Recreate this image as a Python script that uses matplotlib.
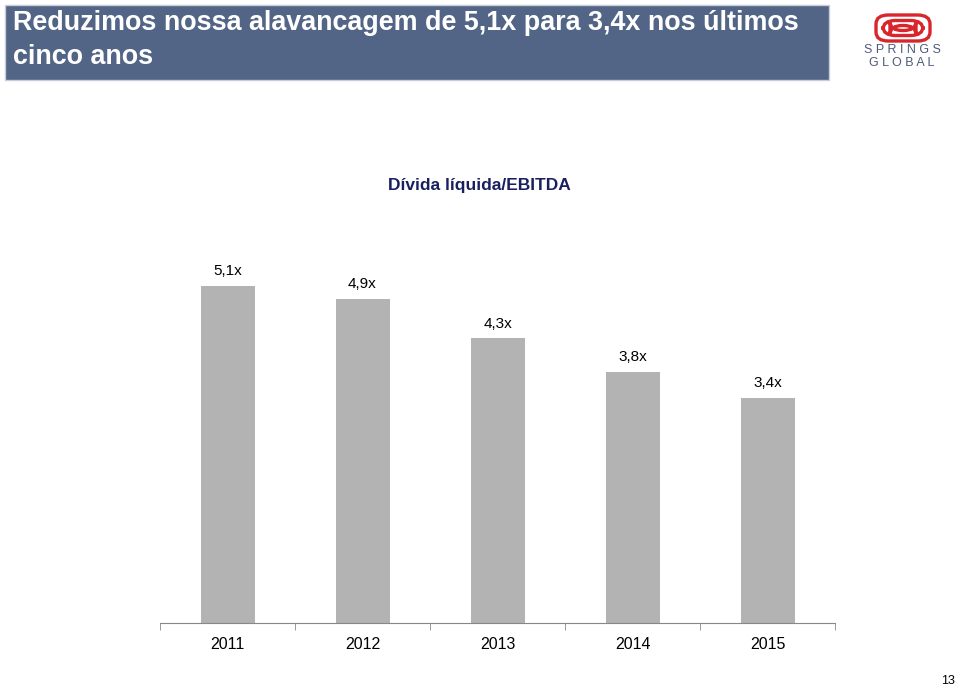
import matplotlib.pyplot as plt
from matplotlib.patches import Rectangle, FancyBboxPatch

anos = ['2011', '2012', '2013', '2014', '2015']
alavancagem = [5.1, 4.9, 4.3, 3.8, 3.4]
rotulos = ['5,1x', '4,9x', '4,3x', '3,8x', '3,4x']

plt.rcParams['font.family'] = ['Liberation Sans', 'DejaVu Sans']

fig = plt.figure(figsize=(9.6, 6.9), dpi=100, facecolor='w')

# banner do titulo
fig.patches.append(Rectangle((5 / 960, 1 - 80 / 690), 824 / 960, 75 / 690,
                             transform=fig.transFigure, facecolor='#536586',
                             edgecolor='#c8ccd6', lw=1))
fig.text(13 / 960, 1 - 23 / 690, 'Reduzimos nossa alavancagem de 5,1x para 3,4x nos últimos',
         color='w', fontsize=19.4, fontweight='bold', va='center', ha='left')
fig.text(13 / 960, 1 - 57 / 690, 'cinco anos', color='w', fontsize=19.4,
         fontweight='bold', va='center', ha='left')

# logo (aproximado)
for w, h in [(54, 26), (40, 15), (26, 5)]:
    fig.patches.append(FancyBboxPatch(((903 - w / 2) / 960, 1 - (28 + h / 2) / 690),
                                      w / 960, h / 690, boxstyle='round,pad=0,rounding_size=0.013',
                                      transform=fig.transFigure, facecolor='none',
                                      edgecolor='#d9262c', lw=2.4))
fig.text(902 / 960, 1 - 50 / 690, 'S P R I N G S', color='#4d5a78', fontsize=9,
         ha='center', va='center')
fig.text(902 / 960, 1 - 63 / 690, 'G L O B A L', color='#4d5a78', fontsize=9,
         ha='center', va='center')

# titulo do grafico
fig.text(479 / 960, 1 - 185 / 690, 'Dívida líquida/EBITDA', color='#1a1f5e',
         fontsize=12.5, fontweight='bold', ha='center', va='center')

ax = fig.add_axes([160 / 960, 1 - 623 / 690, 675 / 960, 397 / 690])
x = range(len(anos))
bars = ax.bar(x, alavancagem, width=0.4, color='#b3b3b3')
for bar, rot in zip(bars, rotulos):
    ax.text(bar.get_x() + bar.get_width() / 2, bar.get_height() + 0.12, rot,
            ha='center', va='bottom', fontsize=11)

ax.set_xlim(-0.5, len(anos) - 0.5)
ax.set_ylim(0, 6)
ax.set_yticks([])
ax.set_xticks(x)
ax.set_xticklabels(anos, fontsize=11.5)
ax.tick_params(axis='x', length=0, pad=10)
ax.set_xticks([i - 0.5 for i in range(len(anos) + 1)], minor=True)
ax.tick_params(axis='x', which='minor', length=5, color='#888888', direction='out')
for s in ['top', 'left', 'right']:
    ax.spines[s].set_visible(False)
ax.spines['bottom'].set_color('#888888')
ax.set_facecolor('none')

fig.text(948 / 960, 1 - 681 / 690, '13', fontsize=9, ha='center', va='center')

plt.savefig('out.png', dpi=100)
